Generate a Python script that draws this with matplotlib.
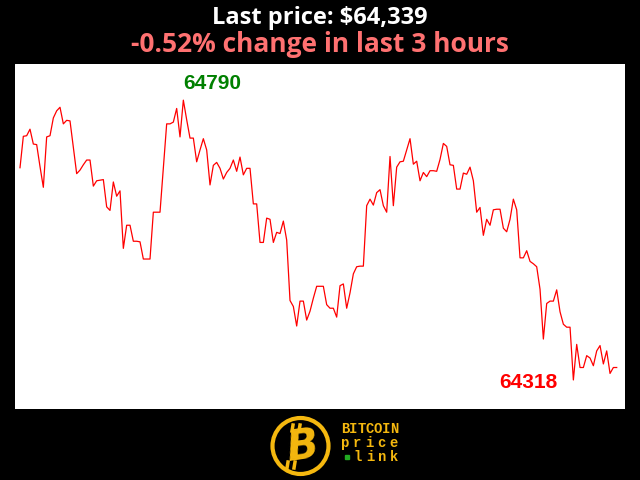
import numpy as np
import matplotlib.pyplot as plt
from matplotlib.patches import Circle

# BTC price, one value per minute over the last 3 hours
prices = [
    64676, 64729, 64730, 64741, 64716, 64715, 64678, 64643, 64728, 64730,
    64760, 64772, 64778, 64750, 64756, 64755, 64710, 64666, 64672, 64681,
    64689, 64689, 64645, 64654, 64655, 64656, 64610, 64604, 64652, 64628,
    64637, 64540, 64579, 64579, 64552, 64552, 64551, 64522, 64522, 64522,
    64601, 64601, 64601, 64676, 64750, 64750, 64753, 64776, 64728, 64790,
    64757, 64726, 64726, 64686, 64706, 64725, 64706, 64647, 64680, 64685,
    64675, 64657, 64668, 64675, 64689, 64670, 64694, 64664, 64675, 64675,
    64615, 64615, 64550, 64550, 64591, 64589, 64550, 64567, 64565, 64586,
    64554, 64452, 64442, 64409, 64451, 64451, 64419, 64434, 64456, 64476,
    64476, 64476, 64445, 64439, 64439, 64424, 64477, 64480, 64439, 64465,
    64497, 64509, 64510, 64510, 64612, 64623, 64613, 64634, 64639, 64612,
    64601, 64695, 64612, 64677, 64686, 64687, 64706, 64725, 64682, 64687,
    64654, 64668, 64661, 64671, 64671, 64670, 64690, 64717, 64712, 64681,
    64680, 64640, 64640, 64667, 64665, 64677, 64654, 64601, 64609, 64562,
    64589, 64579, 64605, 64606, 64606, 64574, 64568, 64589, 64623, 64605,
    64524, 64524, 64536, 64518, 64514, 64509, 64471, 64387, 64447, 64451,
    64451, 64470, 64433, 64412, 64407, 64407, 64318, 64378, 64339, 64339,
    64359, 64355, 64342, 64367, 64376, 64345, 64367, 64329, 64339, 64339,
]
hours = 3

prices = np.array(prices)
minutes = np.arange(len(prices))
last_price = prices[-1]
change = (prices[-1] - prices[0]) / prices[0] * 100
i_max = prices.argmax()
i_min = prices.argmin()

fig = plt.figure(figsize=(6.4, 4.8), dpi=100, facecolor='black')

# main chart
ax = fig.add_axes([15/640, 71/480, 610/640, 345/480])
ax.plot(minutes, prices, color='red', lw=0.9)
step = 596.7 / (len(prices) - 1)
ax.set_xlim(-5 / step, len(prices) - 1 + 8.3 / step)
ax.set_ylim(64269, 64851)
ax.axis('off')
ax.add_patch(plt.Rectangle((0, 0), 1, 1, transform=ax.transAxes,
                           color='white', zorder=-1))

ax.annotate(str(prices[i_max]), (minutes[i_max], prices[i_max]),
            xytext=(0, 8), textcoords='offset points', ha='left',
            va='baseline', color='green', fontsize=15, fontweight='bold',
            family='Liberation Sans')
ax.annotate(str(prices[i_min]), (minutes[i_min], prices[i_min]),
            xytext=(-11.5, -1.8), textcoords='offset points', ha='right',
            va='center', color='red', fontsize=15, fontweight='bold',
            family='Liberation Sans')

# titles
fig.text(0.5, 1 - 24/480, f'Last price: ${last_price:,}', ha='center',
         va='baseline', color='white', fontsize=17, fontweight='bold',
         family='Open Sans')
fig.text(0.5, 1 - 52/480, f'{change:.2f}% change in last {hours} hours',
         ha='center', va='baseline', color='#ff7171', fontsize=19,
         fontweight='bold', family='Open Sans')

# logo (pixel coordinates)
gold = '#f5b80f'
lg = fig.add_axes([0, 0, 1, 1], zorder=-2)
lg.set_xlim(0, 640)
lg.set_ylim(480, 0)
lg.axis('off')
lg.add_patch(Circle((300.5, 446), 28, fill=False, ec=gold, lw=3))
lg.text(302, 447, 'B', ha='center', va='center', color=gold, fontsize=30,
        fontweight='bold', style='italic', rotation=8)
lg.plot([293, 292], [425, 431], color=gold, lw=2.5)
lg.plot([300, 299], [425, 431], color=gold, lw=2.5)
lg.plot([288, 287], [462, 468], color=gold, lw=2.5)
lg.plot([295, 294], [462, 468], color=gold, lw=2.5)


def spaced(word, x0, x1, y, color=gold):
    xs = np.linspace(x0, x1, len(word))
    for ch, xc in zip(word, xs):
        lg.text(xc, y, ch, ha='center', va='center', color=color,
                fontsize=10, fontweight='bold', family='Liberation Mono')


spaced('BITCOIN', 345, 394, 429)
spaced('price', 345, 394, 443)
spaced('link', 358, 394, 457)
lg.plot(346.5, 457, 's', color='#22aa22', ms=3)

fig.savefig('out.png', dpi=100, facecolor='black')
